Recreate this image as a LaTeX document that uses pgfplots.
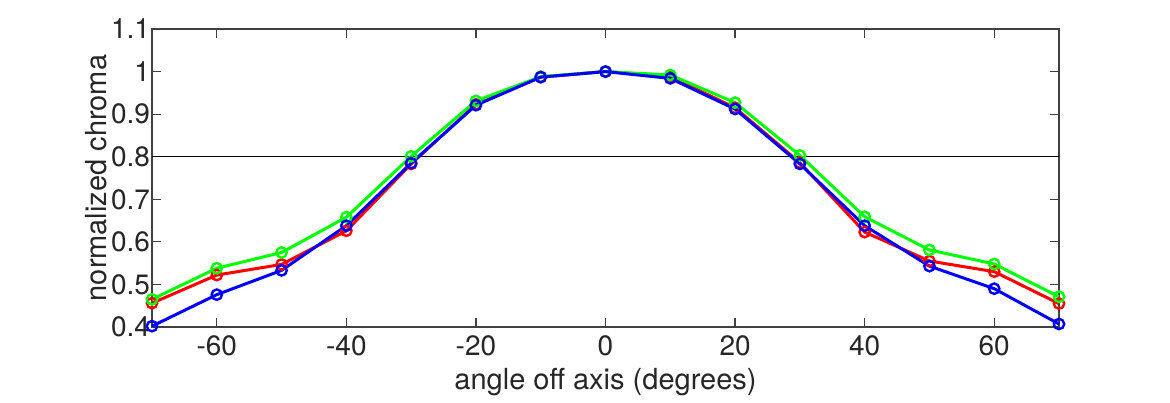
\documentclass[border=0pt]{standalone}
\usepackage{pgfplots}
\pgfplotsset{compat=1.18}
\usepackage{fontspec}
\setmainfont{TeX Gyre Heros}
\begin{document}
\begin{tikzpicture}
\begin{axis}[
  at={(0,0)}, anchor=south west,
  scale only axis,
  width=453.5pt, height=149pt,
  xmin=-70, xmax=70, ymin=0.4, ymax=1.1,
  xtick={-60,-40,...,60},
  ytick={0.4,0.5,...,1.1},
  yticklabels={0.4,0.5,0.6,0.7,0.8,0.9,1,1.1},
  tick align=inside,
  major tick length=4.5pt,
  axis line style={draw=black!75, line width=0.6pt},
  every tick/.style={black!75, line width=0.6pt},
  tick label style={font=\fontsize{14}{14}\selectfont, text=black!85},
  /pgf/number format/assume math mode=true,
  xticklabel style={yshift=-1pt},
  yticklabel style={xshift=2.5pt},
  xlabel={angle off axis (degrees)},
  ylabel={normalized chroma},
  label style={font=\fontsize{14.5}{14.5}\selectfont, text=black!85},
  xlabel style={yshift=1pt},
  ylabel style={yshift=-5pt},
  clip=false,
]
\addplot[black, line width=0.6pt, forget plot] coordinates {(-70,0.8) (70,0.8)};
\addplot[red, line width=1.5pt, mark=o, mark size=2.6pt, mark options={line width=1.2pt}] coordinates {
(-70,0.456) (-60,0.522) (-50,0.547) (-40,0.626) (-30,0.783) (-20,0.923) (-10,0.987) (0,1.0) (10,0.988) (20,0.915) (30,0.786) (40,0.623) (50,0.555) (60,0.530) (70,0.455)};
\addplot[green, line width=1.5pt, mark=o, mark size=2.6pt, mark options={line width=1.2pt}] coordinates {
(-70,0.465) (-60,0.538) (-50,0.575) (-40,0.658) (-30,0.801) (-20,0.931) (-10,0.988) (0,1.0) (10,0.992) (20,0.927) (30,0.803) (40,0.659) (50,0.581) (60,0.548) (70,0.471)};
\addplot[blue, line width=1.5pt, mark=o, mark size=2.6pt, mark options={line width=1.2pt}] coordinates {
(-70,0.402) (-60,0.476) (-50,0.533) (-40,0.638) (-30,0.785) (-20,0.921) (-10,0.987) (0,1.0) (10,0.984) (20,0.912) (30,0.783) (40,0.638) (50,0.543) (60,0.490) (70,0.407)};
\end{axis}
\useasboundingbox (-76pt,-31.5pt) rectangle (509pt,163.5pt);
\end{tikzpicture}
\end{document}
